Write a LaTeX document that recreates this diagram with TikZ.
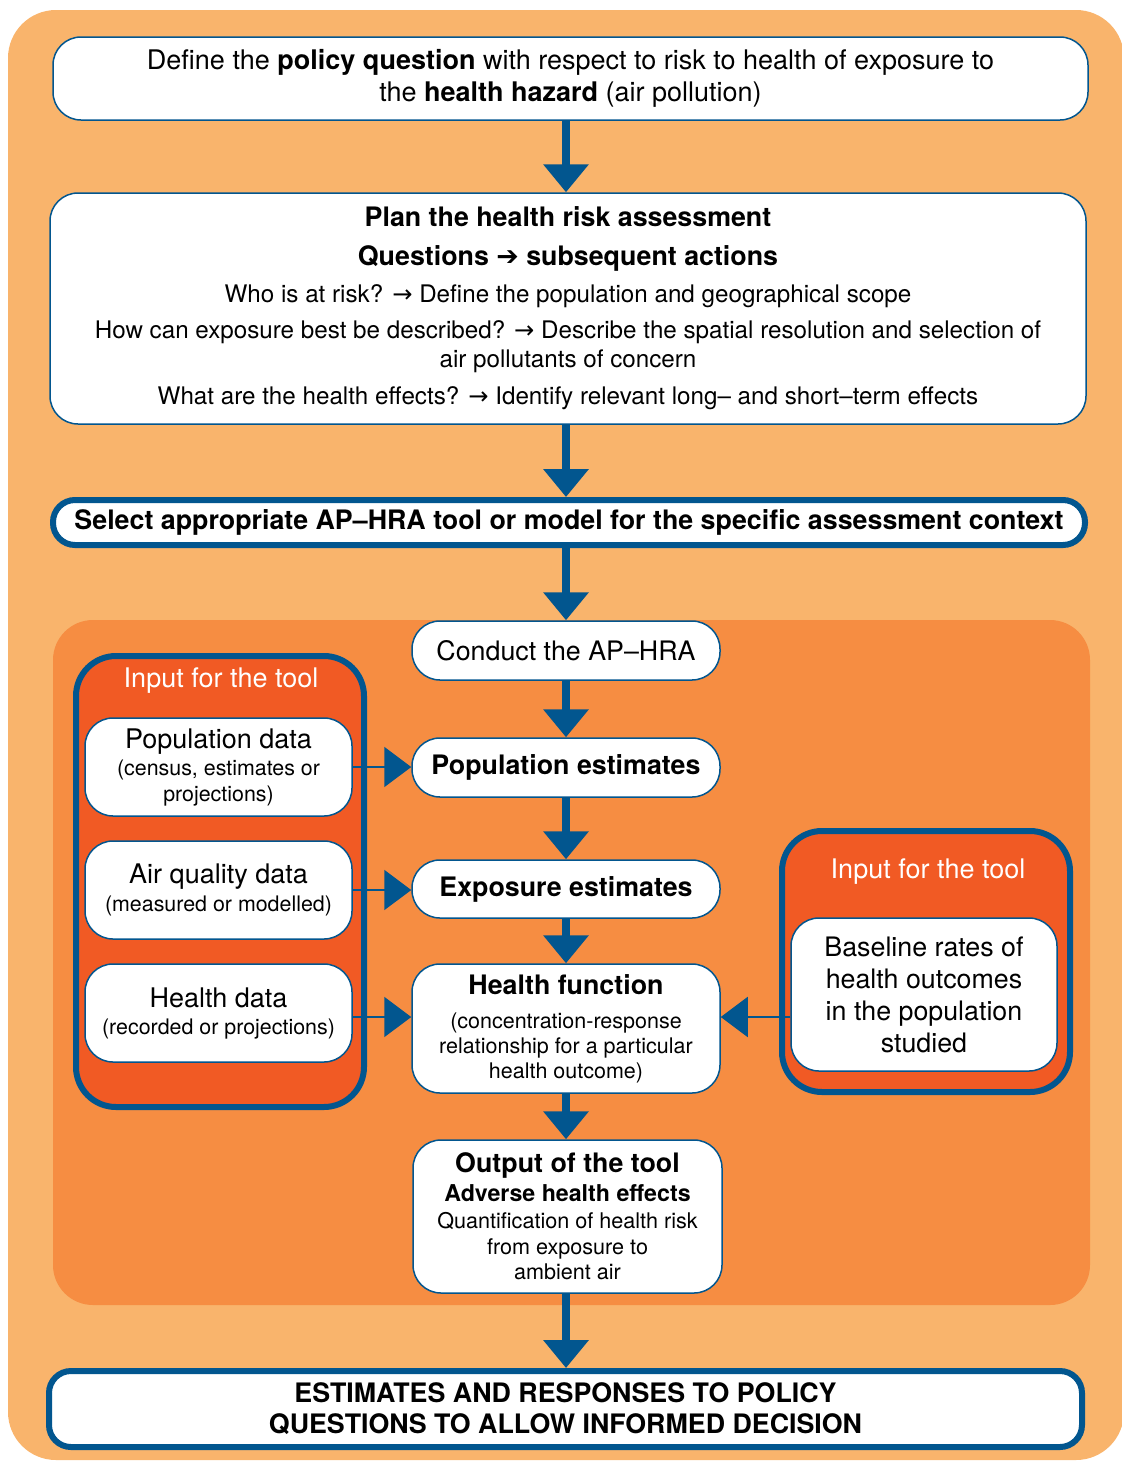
\documentclass[tikz,border=0pt]{standalone}
\usepackage{fontspec}
\setmainfont{TeX Gyre Heros}
\newfontfamily\symfont{DejaVu Sans}
\usetikzlibrary{arrows.meta}
\definecolor{bgouter}{HTML}{F9B46C}
\definecolor{bginner}{HTML}{F68D42}
\definecolor{toolred}{HTML}{F15A24}
\definecolor{whoblue}{HTML}{02568F}

\begin{document}
\begin{tikzpicture}[x=0.5pt,y=-0.5pt,
    every node/.append style={align=center,inner sep=0pt},
    flow/.style={whoblue,line width=4pt,-{Triangle[length=14pt,width=22pt]}},
    feed/.style={whoblue,line width=1pt,-{Triangle[length=13.5pt,width=20pt]}}]
  \tikzstyle{box} = [draw=whoblue,line width=0.75pt,fill=white,rounded corners=14pt,text=black]
  \tikzstyle{keybox} = [box,line width=3pt,rounded corners=11pt]
  \tikzstyle{panel} = [draw=whoblue,line width=3pt,fill=toolred,rounded corners=20pt]
  \tikzstyle{title} = [text=white,font=\fontsize{13.5}{15}\selectfont]
  \tikzstyle{stage} = [box,minimum width=154pt,minimum height=29.5pt,font=\fontsize{13.4}{15}\selectfont]
  \tikzstyle{data} = [box,minimum width=133.5pt,minimum height=49pt,font=\fontsize{10.7}{13}\selectfont]
  \useasboundingbox (0,0) rectangle (1122,1479);
  \fill[bgouter,rounded corners=24pt] (8,10) rectangle (1124,1460);
  \fill[bginner,rounded corners=20pt] (53,620) rectangle (1090,1305);

  \node[box,minimum width=517.5pt,minimum height=41.5pt,font=\fontsize{13.5}{16}\selectfont] (def) at (570.5,78.5)
    {Define the \textbf{policy question} with respect to risk to health of exposure to\\the \textbf{health hazard} (air pollution)};
  \node[box,minimum width=518pt,minimum height=115.5pt,font=\fontsize{12.1}{14.5}\selectfont] (plan) at (568,308.5)
    {{\fontsize{13.4}{14.5}\selectfont\bfseries Plan the health risk assessment}\\[5pt]
     {\fontsize{13.4}{14.5}\selectfont\bfseries Questions {\symfont ➔} subsequent actions}\\[4pt]
     Who is at risk? {\symfont →} Define the population and geographical scope\\[3.5pt]
     How can exposure best be described? {\symfont →} Describe the spatial resolution and selection of\\
     air pollutants of concern\\[4pt]
     What are the health effects? {\symfont →} Identify relevant long-- and short--term effects};
  \node[keybox,minimum width=516pt,minimum height=22.5pt,font=\fontsize{13.4}{15}\selectfont\bfseries] (select) at (569,522.5)
    {Select appropriate AP--HRA tool or model for the specific assessment context};

  \node[panel,minimum width=144pt,minimum height=225.5pt] (leftpanel) at (220,881.5) {};
  \node[title] (lefttitle) at (221,681) {Input for the tool};
  \node[panel,minimum width=144pt,minimum height=130.5pt] (rightpanel) at (926,961.5) {};
  \node[title] (righttitle) at (928,872) {Input for the tool};

  \node[stage] (conduct) at (566,650.5) {Conduct the AP--HRA};
  \node[stage,font=\fontsize{13.4}{15}\selectfont\bfseries] (popest) at (566,767.5) {Population estimates};
  \node[stage,minimum height=29pt,font=\fontsize{13.4}{15}\selectfont\bfseries] (expest) at (566,889) {Exposure estimates};
  \node[stage,minimum height=64.5pt,font=\fontsize{10.75}{12.5}\selectfont] (hfun) at (566,1028.5)
    {{\fontsize{13.4}{15}\selectfont\bfseries Health function}\\[4.5pt]
     (concentration-response\\relationship for a particular\\health outcome)};
  \node[stage,minimum width=154.5pt,minimum height=76.5pt,font=\fontsize{10.8}{12.75}\selectfont] (output) at (567.5,1216.5)
    {{\fontsize{13.4}{15}\selectfont\bfseries Output of the tool}\\[1.75pt]
     {\fontsize{11.6}{13}\selectfont\bfseries Adverse health effects}\\[0.75pt]
     Quantification of health risk\\from exposure to\\ambient air};

  \node[data] (popdata) at (218.5,767) {{\fontsize{13.5}{13}\selectfont Population data}\\[0.5pt](census, estimates or\\projections)};
  \node[data] (airdata) at (218.5,890) {{\fontsize{13.5}{13}\selectfont Air quality data}\\[1pt](measured or modelled)};
  \node[data] (hdata) at (218.5,1013) {{\fontsize{13.5}{13}\selectfont Health data}\\[0.5pt](recorded or projections)};
  \node[box,minimum width=133pt,minimum height=76.5pt,font=\fontsize{13.4}{16}\selectfont] (baseline) at (924,994.5)
    {Baseline rates of\\health outcomes\\in the population\\studied};

  \node[keybox,minimum width=516.5pt,minimum height=38pt,font=\fontsize{13.4}{15.5}\selectfont\bfseries] (final) at (565.5,1409)
    {ESTIMATES AND RESPONSES TO POLICY\\QUESTIONS TO ALLOW INFORMED DECISION};

  \coordinate (hlink) at (0,1017);
  \draw[flow] (def.south -| conduct) -- (plan.north -| conduct);
  \draw[flow] (plan.south -| conduct) -- (select.north -| conduct);
  \draw[flow] (select.south -| conduct) -- (conduct.north);
  \draw[flow] (conduct) -- (popest);
  \draw[flow] (popest) -- (expest);
  \draw[flow] (expest) -- (hfun);
  \draw[flow] (hfun.south) -- (output.north -| hfun);
  \draw[flow] (output.south -| hfun) -- (final.north -| hfun);
  \draw[feed] (popdata.east) -- (popdata.east -| popest.west);
  \draw[feed] (airdata.east) -- (airdata.east -| expest.west);
  \draw[feed] (hdata.east |- hlink) -- (hfun.west |- hlink);
  \draw[feed] (baseline.west |- hlink) -- (hfun.east |- hlink);
\end{tikzpicture}
\end{document}
